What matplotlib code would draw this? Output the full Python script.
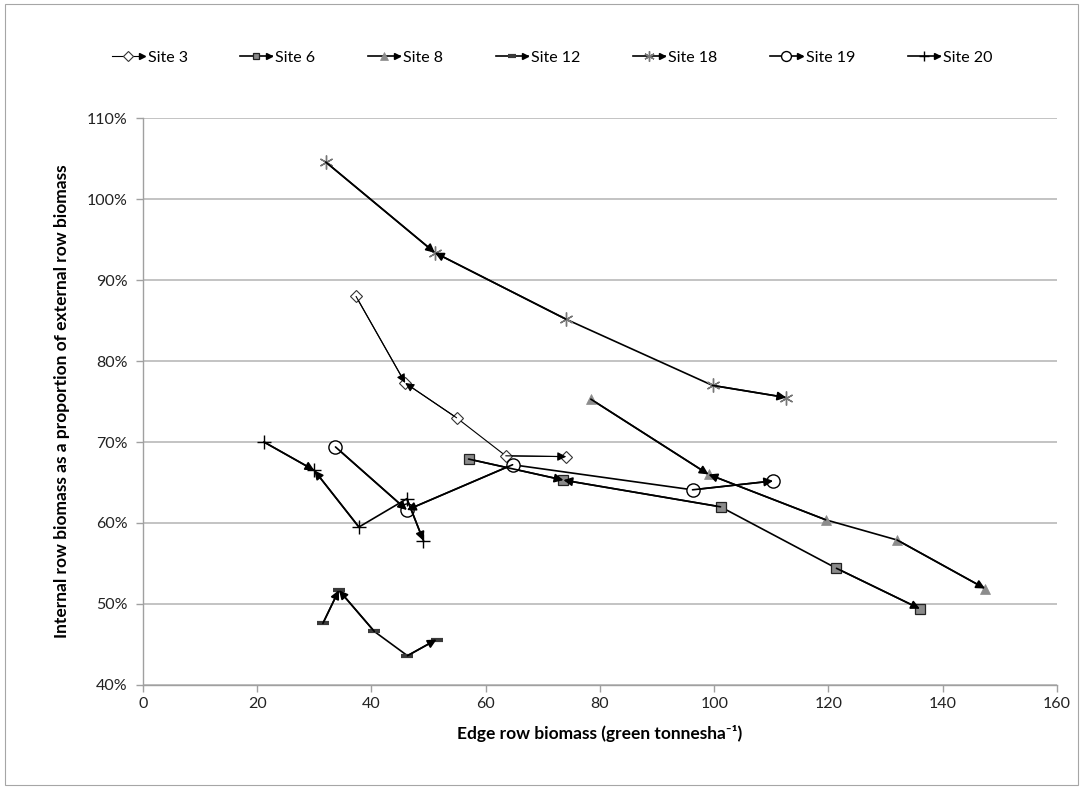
import matplotlib
matplotlib.use("Agg")
import matplotlib.pyplot as plt
from matplotlib.lines import Line2D
from matplotlib.legend_handler import HandlerLine2D
from matplotlib.patches import Rectangle
from matplotlib.ticker import PercentFormatter

plt.rcParams['font.family'] = ['Lato', 'DejaVu Sans']

# edge row biomass (x) and internal/external ratio (%) per site
site3_x = [37.3, 45.9, 54.9, 63.5, 74.1]
site3_y = [88.0, 77.3, 73.0, 68.3, 68.2]
site6_x = [57.0, 73.6, 101.1, 121.4, 136.0]
site6_y = [67.9, 65.3, 62.0, 54.4, 49.4]
site8_x = [78.4, 99.0, 119.5, 132.0, 147.4]
site8_y = [75.3, 66.0, 60.4, 57.9, 51.9]
site12_x = [31.5, 34.3, 40.5, 46.3, 51.4]
site12_y = [47.6, 51.7, 46.6, 43.6, 45.6]
site18_x = [32.0, 51.1, 74.0, 99.7, 112.6]
site18_y = [104.6, 93.4, 85.2, 77.0, 75.5]
site19_x = [33.7, 46.2, 64.7, 96.2, 110.3]
site19_y = [69.4, 61.6, 67.2, 64.1, 65.2]
site20_x = [21.2, 30.0, 37.8, 46.2, 49.1]
site20_y = [70.0, 66.5, 59.5, 63.0, 57.8]

labels = ["Site 3", "Site 6", "Site 8", "Site 12", "Site 18", "Site 19", "Site 20"]
xs = [site3_x, site6_x, site8_x, site12_x, site18_x, site19_x, site20_x]
ys = [site3_y, site6_y, site8_y, site12_y, site18_y, site19_y, site20_y]

# segments (from, to) that get an arrowhead at the "to" point
arrow_segments = [(0, 1), (2, 1), (3, 4)]

styles = [
    dict(marker='D', ms=6.5, mfc='white', mec='#333333', mew=0.8, lw=0.8),
    dict(marker='s', ms=6.5, mfc='#8a8a8a', mec='#222222', mew=0.9, lw=1.2),
    dict(marker='^', ms=7, mfc='#8c8c8c', mec='#8c8c8c', mew=0.5, lw=1.2),
    dict(marker='_', ms=8, mfc='#3a3a3a', mec='#3a3a3a', mew=3.0, lw=1.2),
    dict(marker=(6, 2, 0), ms=10, mfc='#777777', mec='#777777', mew=1.0, lw=1.2),
    dict(marker='o', ms=9.5, mfc='white', mec='black', mew=1.0, lw=1.2),
    dict(marker='+', ms=10, mfc='black', mec='black', mew=1.0, lw=1.2),
]


class ArrowLegendHandler(HandlerLine2D):
    def create_artists(self, legend, orig_handle, xdescent, ydescent,
                       width, height, fontsize, trans):
        artists = super().create_artists(legend, orig_handle, xdescent, ydescent,
                                         width, height, fontsize, trans)
        tip = Line2D([width - xdescent - 2], [(height - ydescent) / 2],
                     marker='>', ms=5, color='black', ls='none', transform=trans)
        return list(artists) + [tip]


fig = plt.figure(figsize=(10.83, 7.89), dpi=100)
ax = fig.add_axes([0.132, 0.132, 0.844, 0.718])

fig.patches.append(Rectangle((0.005, 0.005), 0.99, 0.99, transform=fig.transFigure,
                             fill=False, edgecolor='#a6a6a6', lw=0.8))

handles = []
for x, y, lab, st in zip(xs, ys, labels, styles):
    line, = ax.plot(x, y, color='black', lw=st['lw'], marker=st['marker'],
                    ms=st['ms'], mfc=st['mfc'], mec=st['mec'], mew=st['mew'],
                    zorder=3, label=lab)
    for a, b in arrow_segments:
        ax.annotate('', xy=(x[b], y[b]), xytext=(x[a], y[a]),
                    arrowprops=dict(arrowstyle='-|>', color='black', lw=st['lw'],
                                    mutation_scale=13, shrinkA=0, shrinkB=0),
                    zorder=4)
    handles.append(line)

ax.set_xlim(0, 160)
ax.set_ylim(40, 110)
ax.set_xticks(range(0, 161, 20))
ax.set_yticks(range(40, 111, 10))
ax.yaxis.set_major_formatter(PercentFormatter(decimals=0))
ax.grid(axis='y', color='#b3b3b3', lw=1.1)
ax.set_axisbelow(True)
for s in ['top', 'right']:
    ax.spines[s].set_visible(False)
for s in ['left', 'bottom']:
    ax.spines[s].set_color('#a0a0a0')
    ax.spines[s].set_linewidth(1.0)
ax.tick_params(axis='both', colors='#a0a0a0', labelcolor='#222222',
               labelsize=11.5, length=5, width=1.0, direction='out')
ax.tick_params(axis='y', pad=6)

ax.set_xlabel("Edge row biomass (green tonnesha\u207b\u00b9)", fontsize=12.5,
              fontweight='bold', labelpad=10)
ax.set_ylabel("Internal row biomass as a proportion of external row biomass",
              fontsize=12.5, fontweight='bold', labelpad=12)

fig.legend(handles=handles, loc='center', bbox_to_anchor=(0.51, 0.927), ncol=7,
           frameon=False, fontsize=11.5, handlelength=2.0, handletextpad=0.2,
           columnspacing=3.3, numpoints=1, markerscale=0.75,
           handler_map={Line2D: ArrowLegendHandler(numpoints=1, marker_pad=0.3)})

fig.savefig("out.png", dpi=100)
